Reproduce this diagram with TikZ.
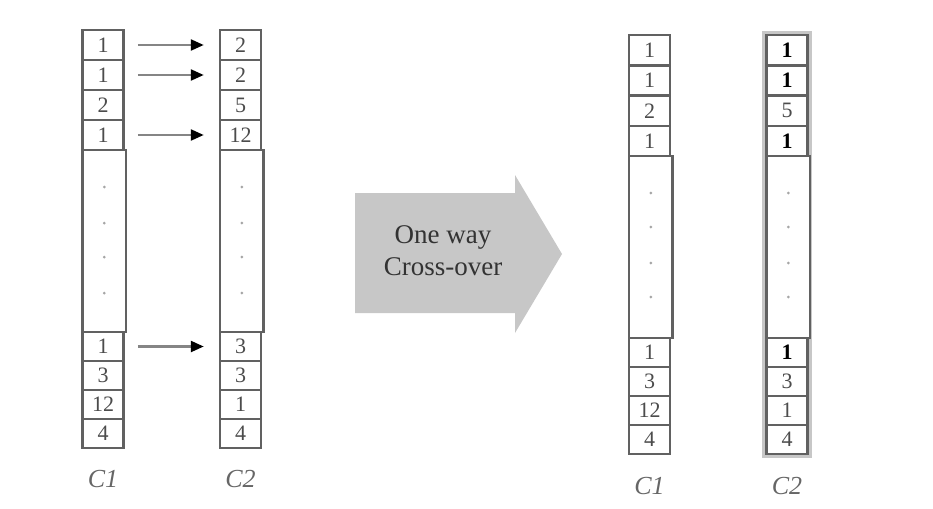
\documentclass[tikz,border=0pt]{standalone}
\usepackage{fontspec}
\setmainfont{Liberation Serif}
\usetikzlibrary{arrows.meta,backgrounds}

\newcommand{\hit}[1]{\textbf{\color{black}#1}}

\tikzset{
  cell/.style={draw=black!62, line width=2.5pt, fill=white, minimum width=41pt, inner sep=0pt,
    text=black!70, font=\fontsize{22}{24}\selectfont},
  gap/.style={cell, minimum width=43.5pt},
  xfer/.style={draw=black!48, line width=2.4pt, shorten <=13pt, shorten >=15pt,
    -{Triangle[length=13pt,width=11pt,black]}},
  tag/.style={font=\fontsize{26}{28}\selectfont\itshape, text=black!60},
}

\begin{document}
\begin{tikzpicture}[x=1pt,y=-1pt]
    \useasboundingbox (0,0) rectangle (933,508);
    % before the cross-over
    \foreach \v [count=\i] in {1,1,2,1}
      \node[cell, minimum height=30pt] (pa\i) at (103,{15+30*\i}) {\v};
    \foreach \v [count=\i from 5] in {1,3,12,4}
      \node[cell, minimum height=29pt] (pa\i) at (103,{346.5+29*(\i-5)}) {\v};
    \node[gap, minimum height=182pt] (pam) at (104.25,241) {};
    \foreach \v [count=\i] in {2,2,5,12}
      \node[cell, minimum height=30pt] (pb\i) at (240.5,{15+30*\i}) {\v};
    \foreach \v [count=\i from 5] in {3,3,1,4}
      \node[cell, minimum height=29pt] (pb\i) at (240.5,{346.5+29*(\i-5)}) {\v};
    \node[gap, minimum height=182pt] (pbm) at (241.75,241) {};
    \foreach \d in {-54,-18,16,52}
      {\fill[black!35] (pam.center) ++(0,\d) circle (1.5pt);
       \fill[black!35] (pbm.center) ++(0,\d) circle (1.5pt);}
    \draw[xfer] (pa1) -- (pb1);
    \draw[xfer] (pa2) -- (pb2);
    \draw[xfer] (pa4) -- (pb4);
    \draw[xfer] (pa5) -- (pb5);
    \node[tag] (pla) at (103,479) {C1};
    \node[tag] (plb) at (240.5,479) {C2};
    % big arrow
    \fill[black!22] (355,193) -- (515,193) -- (515,175) -- (562,254) -- (515,333) -- (515,313) -- (355,313) -- cycle;
    \node[align=center, text=black!80, font=\fontsize{27}{32}\selectfont] (xover) at (443,251) {One way\\Cross-over};
    % after the cross-over
    \foreach \v [count=\i] in {1,1,2,1}
      \node[cell, minimum height=30.25pt] (qa\i) at (649.5,{20+30.25*\i}) {\v};
    \foreach \v [count=\i from 5] in {1,3,12,4}
      \node[cell, minimum height=29pt] (qa\i) at (649.5,{352.5+29*(\i-5)}) {\v};
    \node[gap, minimum height=182pt] (qam) at (650.75,247) {};
    \foreach \v [count=\i] in {\hit{1},\hit{1},5,\hit{1}}
      \node[cell, minimum height=30.25pt] (qb\i) at (787,{20+30.25*\i}) {\v};
    \foreach \v [count=\i from 5] in {\hit{1},3,1,4}
      \node[cell, minimum height=29pt] (qb\i) at (787,{352.5+29*(\i-5)}) {\v};
    \node[gap, minimum height=182pt] (qbm) at (788.25,247) {};
    \foreach \d in {-54,-20,16,50}
      {\fill[black!35] (qam.center) ++(0,\d) circle (1.5pt);
       \fill[black!35] (qbm.center) ++(0,\d) circle (1.5pt);}
    \begin{scope}[on background layer]
      \draw[black!22, line width=6pt] (qb1.north west) rectangle (qb8.south east);
    \end{scope}
    \node[tag] (qla) at (649.5,486) {C1};
    \node[tag] (qlb) at (787,486) {C2};
  \end{tikzpicture}
\end{document}
